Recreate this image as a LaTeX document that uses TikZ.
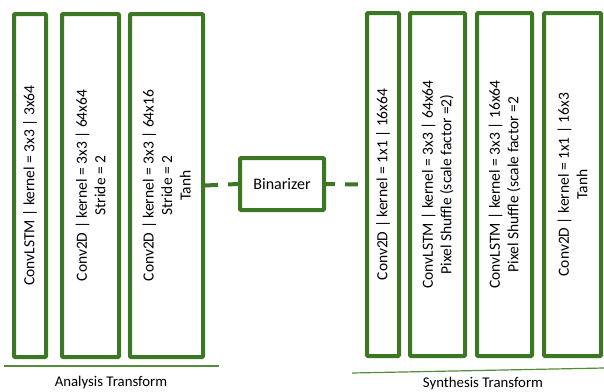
\documentclass[tikz,border=0pt]{standalone}
\usepackage{fontspec}
\setmainfont{Carlito}
\usepackage{tikz}
\definecolor{layergreen}{RGB}{60,120,35}
\definecolor{rulegreen}{RGB}{84,140,60}
\tikzset{
  layer/.style={draw=layergreen, line width=4pt, rounded corners=1pt, rotate=90,
    align=center, inner sep=0pt, minimum width=343pt, font=\fontsize{15.5}{18.5}\selectfont},
  binbox/.style={draw=layergreen, line width=4pt, rounded corners=1pt,
    minimum width=84pt, minimum height=52pt, inner sep=0pt, font=\fontsize{16}{18}\selectfont},
  link/.style={draw=layergreen, line width=4pt, dash pattern=on 13pt off 10pt},
  caption/.style={font=\fontsize{14.8}{17}\selectfont, inner sep=0pt}
}

\begin{document}
\begin{tikzpicture}[x=1pt, y=-1pt]
		%%%%% START %%%%%
		\useasboundingbox (0, 0) rectangle (604, 391);
		
		% analysis transform
		\node[layer, minimum height=32pt] (an1) at (30, 185.5) {ConvLSTM | kernel = 3x3 | 3x64};
		\node[layer, minimum height=57pt] (an2) at (90.5, 185.5) {Conv2D | kernel = 3x3 | 64x64\\Stride = 2};
		\node[layer, minimum height=73pt] (an3) at (166.5, 185.5) {Conv2D | kernel = 3x3 | 64x16\\Stride = 2\\Tanh};
		
		\node[binbox] (bin) at (282, 184) {Binarizer};
		
		% synthesis transform
		\node[layer, minimum height=32pt] (sy1) at (383, 184.5) {Conv2D | kernel = 1x1 | 16x64};
		\node[layer, minimum height=55pt] (sy2) at (437.5, 184.5) {ConvLSTM | kernel = 3x3 | 64x64\\Pixel Shuffle (scale factor =2)};
		\node[layer, minimum height=55pt] (sy3) at (504.5, 184.5) {ConvLSTM | kernel = 3x3 | 16x64\\Pixel Shuffle (scale factor =2};
		\node[layer, minimum height=57pt] (sy4) at (572.5, 184.5) {Conv2D | kernel = 1x1 | 16x3\\Tanh};
		
		\draw[link] (an3.south) -- (bin.west);
		\draw[link, dash phase=4pt] (bin.east) -- (sy1.north);
		
		% captions
		\draw[rulegreen, line width=1.2pt] (4, 366) -- (219, 366);
		\draw[rulegreen, line width=1.2pt] (352, 373) -- (604, 368);
		\node[caption] (antext) at (111, 383) {Analysis Transform};
		\node[caption] (sytext) at (483, 384) {Synthesis Transform};
		
		%%%%% END %%%%%
	\end{tikzpicture}
\end{document}
